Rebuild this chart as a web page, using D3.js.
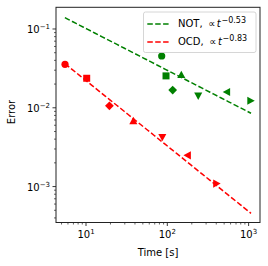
<!DOCTYPE html>
<html><head><meta charset="utf-8">
<script src="https://cdn.jsdelivr.net/npm/d3@7"></script>
<style>html,body{margin:0;padding:0;background:#fff;}svg{display:block;font-family:"DejaVu Sans",sans-serif;}</style>
</head><body>
<script>
// Data
const notTime = [85.3, 96.4, 148.6, 116.4, 240, 538, 1062];
const notError = [0.0454, 0.0254, 0.0263, 0.0168, 0.0141, 0.0159, 0.0123];
const ocdTime = [5.52, 10.2, 19.4, 38.2, 86.8, 177, 404];
const ocdError = [0.0356, 0.0237, 0.0106, 0.00685, 0.00422, 0.00249, 0.00109];
const markers = ["circle", "square", "triangle-up", "diamond", "triangle-down", "triangle-left", "triangle-right"];
const ocdMarkers = ["circle", "square", "diamond", "triangle-up", "triangle-down", "triangle-left", "triangle-right"];
const fitNames = ["NOT", "OCD"];
const fitExponents = [0.53, 0.83];
const fitLogConst = [-0.464, -0.825];
const fitRange = [[5.5, 1070], [5.5, 1070]];
const fitColors = ["green", "red"];
const xTickVals = [10, 100, 1000];
const xTickExp = ["1", "2", "3"];
const yTickVals = [0.1, 0.01, 0.001];
const yTickExp = ["\u22121", "\u22122", "\u22123"];

const W = 268, H = 266;
const svg = d3.select("body").append("svg").attr("width", W).attr("height", H);
const x = d3.scaleLog().domain([Math.pow(10, 0.631), Math.pow(10, 3.140)]).range([56, 260]);
const y = d3.scaleLog().domain([Math.pow(10, -3.456), Math.pow(10, -0.7246)]).range([222.5, 7.3]);

// fit lines
fitNames.forEach((n, i) => {
  const ts = d3.range(0, 51).map(k => Math.pow(10, Math.log10(fitRange[i][0]) + k / 50 * (Math.log10(fitRange[i][1]) - Math.log10(fitRange[i][0]))));
  const line = d3.line().x(t => x(t)).y(t => y(Math.pow(10, fitLogConst[i]) * Math.pow(t, -fitExponents[i])));
  svg.append("path").attr("d", line(ts)).attr("fill", "none").attr("stroke", fitColors[i])
    .attr("stroke-width", 1.5).attr("stroke-dasharray", "5.5,2.4");
});

function markerPath(type, s) {
  const r = s / 2;
  switch (type) {
    case "square": return `M${-r},${-r}H${r}V${r}H${-r}Z`;
    case "diamond": { const d = r * 1.25; return `M0,${-d}L${d},0L0,${d}L${-d},0Z`; }
    case "triangle-up": { const a = r * 1.15; return `M0,${-a}L${a},${a*0.85}L${-a},${a*0.85}Z`; }
    case "triangle-down": { const a = r * 1.15; return `M0,${a}L${a},${-a*0.85}L${-a},${-a*0.85}Z`; }
    case "triangle-left": { const a = r * 1.15; return `M${-a},0L${a*0.85},${-a}L${a*0.85},${a}Z`; }
    case "triangle-right": { const a = r * 1.15; return `M${a},0L${-a*0.85},${-a}L${-a*0.85},${a}Z`; }
  }
}
function drawPoints(ts, es, ms, col) {
  ts.forEach((t, i) => {
    const cx = x(t), cy = y(es[i]);
    if (ms[i] === "circle") {
      svg.append("circle").attr("cx", cx).attr("cy", cy).attr("r", 3.6).attr("fill", col);
    } else {
      svg.append("path").attr("d", markerPath(ms[i], 7)).attr("transform", `translate(${cx},${cy})`).attr("fill", col);
    }
  });
}
drawPoints(notTime, notError, markers, "green");
drawPoints(ocdTime, ocdError, ocdMarkers, "red");

// frame
const x0 = x.range()[0], x1 = x.range()[1], y0 = y.range()[0], y1 = y.range()[1];
svg.append("rect").attr("x", x0).attr("y", y1).attr("width", x1 - x0).attr("height", y0 - y1)
  .attr("fill", "none").attr("stroke", "#222").attr("stroke-width", 1);

// minor ticks
const xMinor = [];
[1, 10, 100, 1000].forEach(d => { for (let k = 2; k <= 9; k++) { const v = d * k; if (v > x.domain()[0] && v < x.domain()[1]) xMinor.push(v); } });
xMinor.forEach(v => svg.append("line").attr("x1", x(v)).attr("x2", x(v)).attr("y1", y0).attr("y2", y0 + 2).attr("stroke", "#222").attr("stroke-width", 0.7));
const yMinor = [];
[0.0001, 0.001, 0.01, 0.1].forEach(d => { for (let k = 2; k <= 9; k++) { const v = d * k; if (v > y.domain()[0] && v < y.domain()[1]) yMinor.push(v); } });
yMinor.forEach(v => svg.append("line").attr("y1", y(v)).attr("y2", y(v)).attr("x1", x0).attr("x2", x0 - 2).attr("stroke", "#222").attr("stroke-width", 0.7));

// major ticks + labels
xTickVals.forEach((v, i) => {
  svg.append("line").attr("x1", x(v)).attr("x2", x(v)).attr("y1", y0).attr("y2", y0 + 3.5).attr("stroke", "#222").attr("stroke-width", 0.9);
  const t = svg.append("text").attr("x", x(v)).attr("y", y0 + 15).attr("text-anchor", "middle").attr("font-size", 10).attr("fill", "#000");
  t.append("tspan").text("10");
  t.append("tspan").attr("dy", -4).attr("font-size", 7).text(xTickExp[i]);
});
yTickVals.forEach((v, i) => {
  svg.append("line").attr("y1", y(v)).attr("y2", y(v)).attr("x1", x0).attr("x2", x0 - 3.5).attr("stroke", "#222").attr("stroke-width", 0.9);
  const t = svg.append("text").attr("x", x0 - 6).attr("y", y(v) + 4).attr("text-anchor", "end").attr("font-size", 10).attr("fill", "#000");
  t.append("tspan").text("10");
  t.append("tspan").attr("dy", -4).attr("font-size", 7).text(yTickExp[i]);
});

svg.append("text").attr("x", 158).attr("y", 256).attr("text-anchor", "middle").attr("font-size", 10).text("Time [s]");
svg.append("text").attr("transform", "translate(15,112) rotate(-90)").attr("text-anchor", "middle").attr("font-size", 10).text("Error");

// legend
const lg = svg.append("g");
lg.append("rect").attr("x", 143.5).attr("y", 12).attr("width", 112.5).attr("height", 40.5).attr("rx", 2)
  .attr("fill", "#fff").attr("fill-opacity", 0.8).attr("stroke", "#ccc").attr("stroke-width", 0.8);
fitNames.forEach((n, i) => {
  const yy = 24 + i * 18;
  lg.append("line").attr("x1", 147.3).attr("x2", 169.5).attr("y1", yy).attr("y2", yy).attr("stroke", fitColors[i])
    .attr("stroke-width", 1.5).attr("stroke-dasharray", "5.5,2.4");
  const base = yy + 3;
  const nm = lg.append("text").attr("x", 178).attr("y", base).attr("font-size", 10).text(n + ",");
  const w = nm.node().getComputedTextLength();
  const px = 178 + w + 5.5;
  const pr = lg.append("text").attr("x", px).attr("y", base).attr("font-size", 10).text("\u221D");
  const pw = pr.node().getComputedTextLength();
  const tx = px + pw + 1.5;
  const tt = lg.append("text").attr("x", tx).attr("y", base).attr("font-size", 10).attr("font-style", "italic").text("t");
  const tw = tt.node().getComputedTextLength();
  lg.append("text").attr("x", tx + tw + 0.8).attr("y", base - 4.5).attr("font-size", 8).text("\u2212" + fitExponents[i].toFixed(2));
});
</script>
</body></html>
